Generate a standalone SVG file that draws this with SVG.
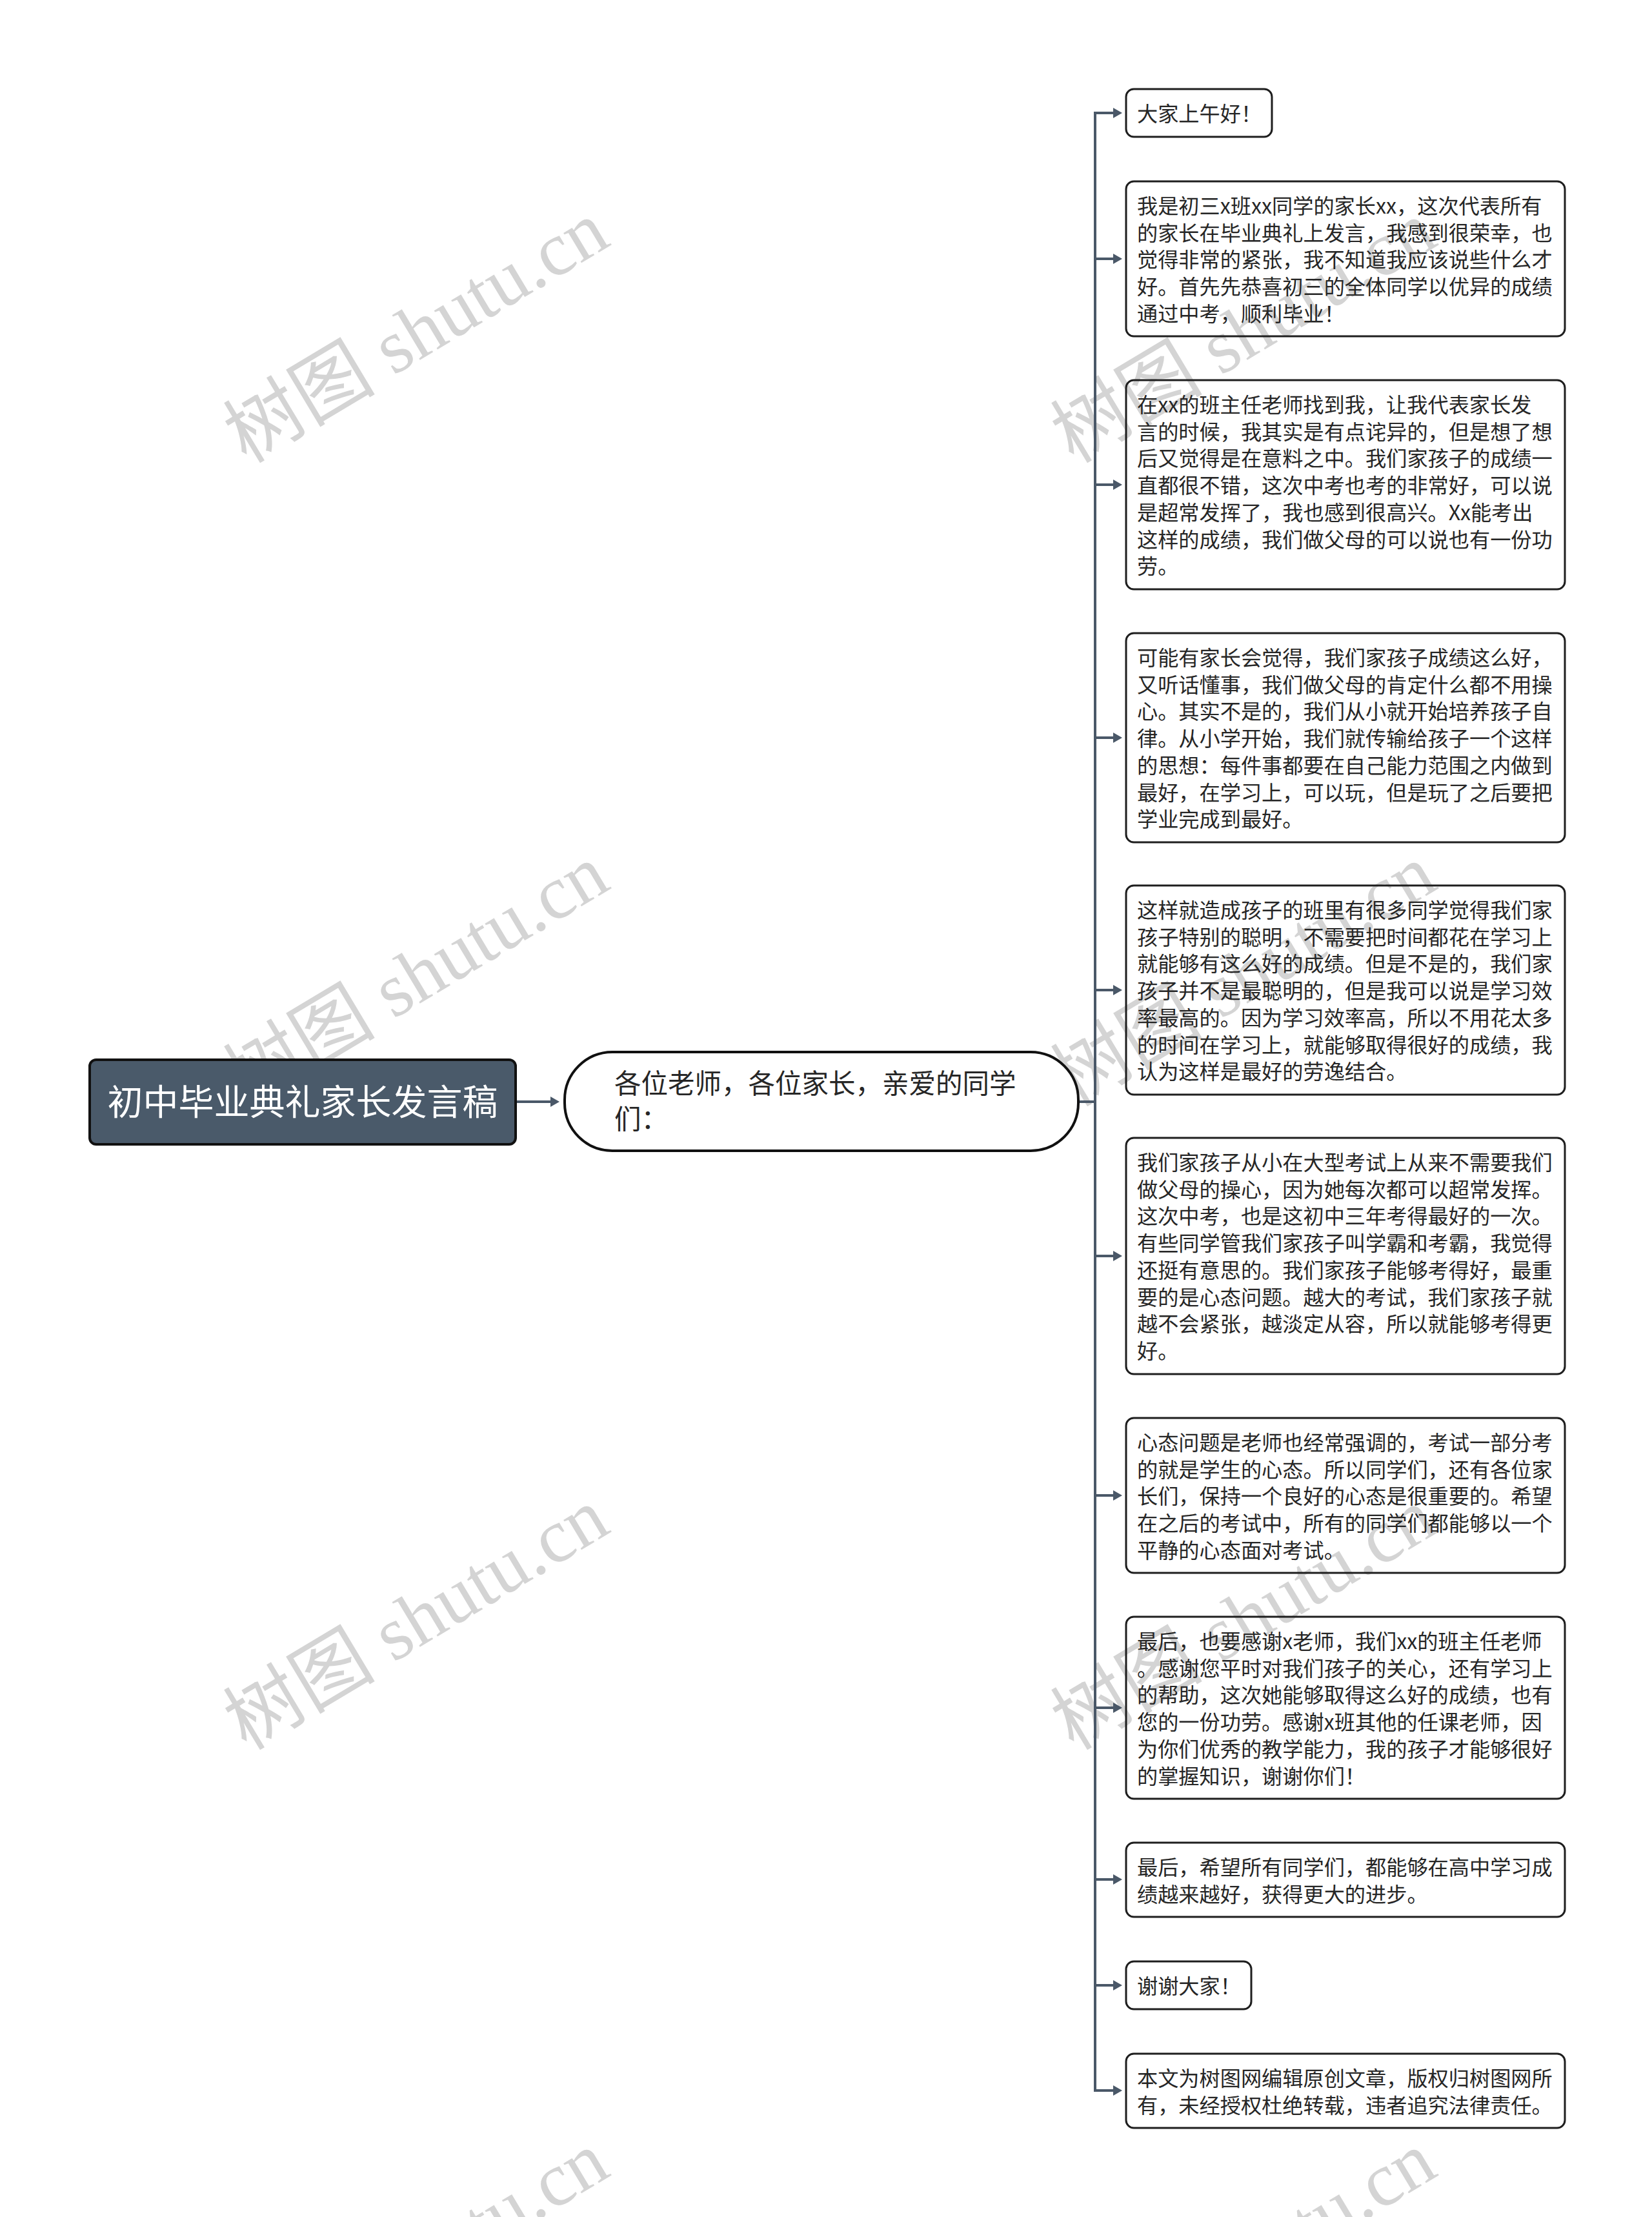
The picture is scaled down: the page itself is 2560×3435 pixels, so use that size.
<svg xmlns="http://www.w3.org/2000/svg" width="2560" height="3435" viewBox="0 0 2560 3435">
<style>
.wm{font-family:"Liberation Serif","Noto Sans CJK SC",serif;font-size:118px;fill:#d4d4d4;text-anchor:middle}
.conn{stroke:#4a5868;stroke-width:4;fill:none}
.box{fill:none;stroke:#1e1e1e;stroke-width:3}
.t{font-family:"Noto Sans CJK SC","Noto Sans",sans-serif;font-size:32.2px;fill:#262626}
.root{fill:#4a5a6a;stroke:#111;stroke-width:4}
.rt{font-family:"Noto Sans CJK SC","Noto Sans",sans-serif;font-size:55px;fill:#ffffff;text-anchor:middle}
.sub{fill:#ffffff;stroke:#111;stroke-width:4}
.st{font-family:"Noto Sans CJK SC","Noto Sans",sans-serif;font-size:41.5px;fill:#262626}
</style>
<defs>
<marker id="ah" markerUnits="userSpaceOnUse" markerWidth="14" markerHeight="16" refX="2" refY="8" orient="auto">
<path d="M0,0 L14,8 L0,16 z" fill="#4a5868"/>
</marker>
</defs>
<rect width="2560" height="3435" fill="#ffffff"/>
<g id="watermarks">
<text class="wm" transform="translate(647,518) rotate(-31)" y="36">树图 shutu.cn</text>
<text class="wm" transform="translate(1929,518) rotate(-31)" y="36">树图 shutu.cn</text>
<text class="wm" transform="translate(647,1515) rotate(-31)" y="36">树图 shutu.cn</text>
<text class="wm" transform="translate(1929,1515) rotate(-31)" y="36">树图 shutu.cn</text>
<text class="wm" transform="translate(647,2512) rotate(-31)" y="36">树图 shutu.cn</text>
<text class="wm" transform="translate(1929,2512) rotate(-31)" y="36">树图 shutu.cn</text>
<text class="wm" transform="translate(647,3509) rotate(-31)" y="36">树图 shutu.cn</text>
<text class="wm" transform="translate(1929,3509) rotate(-31)" y="36">树图 shutu.cn</text>
</g>
<g id="connectors">
<line class="conn" x1="799" y1="1707" x2="855" y2="1707" marker-end="url(#ah)"/>
<path class="conn" d="M1671,1707 H1697"/>
<line class="conn" x1="1697" y1="173" x2="1697" y2="3241"/>
<line class="conn" x1="1697" y1="175" x2="1727" y2="175" marker-end="url(#ah)"/>
<line class="conn" x1="1697" y1="401" x2="1727" y2="401" marker-end="url(#ah)"/>
<line class="conn" x1="1697" y1="751" x2="1727" y2="751" marker-end="url(#ah)"/>
<line class="conn" x1="1697" y1="1143" x2="1727" y2="1143" marker-end="url(#ah)"/>
<line class="conn" x1="1697" y1="1534" x2="1727" y2="1534" marker-end="url(#ah)"/>
<line class="conn" x1="1697" y1="1946" x2="1727" y2="1946" marker-end="url(#ah)"/>
<line class="conn" x1="1697" y1="2317" x2="1727" y2="2317" marker-end="url(#ah)"/>
<line class="conn" x1="1697" y1="2646" x2="1727" y2="2646" marker-end="url(#ah)"/>
<line class="conn" x1="1697" y1="2912" x2="1727" y2="2912" marker-end="url(#ah)"/>
<line class="conn" x1="1697" y1="3076" x2="1727" y2="3076" marker-end="url(#ah)"/>
<line class="conn" x1="1697" y1="3239" x2="1727" y2="3239" marker-end="url(#ah)"/>
</g>
<g id="root">
<rect class="root" x="139" y="1642" width="660" height="131" rx="10"/>
<text class="rt" x="469" y="1727">初中毕业典礼家长发言稿</text>
</g>
<g id="sub">
<rect class="sub" x="875" y="1630" width="796" height="153" rx="74"/>
<text class="st" x="952" y="1694">各位老师，各位家长，亲爱的同学<tspan x="952" dy="55">们：</tspan></text>
</g>
<g id="n1">
<rect class="box" x="1745" y="138" width="226" height="74" rx="12"/>
<text class="t" x="1762" y="188">大家上午好！</text>
</g>
<g id="n2">
<rect class="box" x="1745" y="281" width="680" height="240" rx="12"/>
<text class="t" x="1762" y="331">我是初三x班xx同学的家长xx，这次代表所有<tspan x="1762" dy="41.7">的家长在毕业典礼上发言，我感到很荣幸，也</tspan><tspan x="1762" dy="41.7">觉得非常的紧张，我不知道我应该说些什么才</tspan><tspan x="1762" dy="41.7">好。首先先恭喜初三的全体同学以优异的成绩</tspan><tspan x="1762" dy="41.7">通过中考，顺利毕业！</tspan></text>
</g>
<g id="n3">
<rect class="box" x="1745" y="589" width="680" height="324" rx="12"/>
<text class="t" x="1762" y="639">在xx的班主任老师找到我，让我代表家长发<tspan x="1762" dy="41.7">言的时候，我其实是有点诧异的，但是想了想</tspan><tspan x="1762" dy="41.7">后又觉得是在意料之中。我们家孩子的成绩一</tspan><tspan x="1762" dy="41.7">直都很不错，这次中考也考的非常好，可以说</tspan><tspan x="1762" dy="41.7">是超常发挥了，我也感到很高兴。Xx能考出</tspan><tspan x="1762" dy="41.7">这样的成绩，我们做父母的可以说也有一份功</tspan><tspan x="1762" dy="41.7">劳。</tspan></text>
</g>
<g id="n4">
<rect class="box" x="1745" y="981" width="680" height="324" rx="12"/>
<text class="t" x="1762" y="1031">可能有家长会觉得，我们家孩子成绩这么好，<tspan x="1762" dy="41.7">又听话懂事，我们做父母的肯定什么都不用操</tspan><tspan x="1762" dy="41.7">心。其实不是的，我们从小就开始培养孩子自</tspan><tspan x="1762" dy="41.7">律。从小学开始，我们就传输给孩子一个这样</tspan><tspan x="1762" dy="41.7">的思想：每件事都要在自己能力范围之内做到</tspan><tspan x="1762" dy="41.7">最好，在学习上，可以玩，但是玩了之后要把</tspan><tspan x="1762" dy="41.7">学业完成到最好。</tspan></text>
</g>
<g id="n5">
<rect class="box" x="1745" y="1372" width="680" height="324" rx="12"/>
<text class="t" x="1762" y="1422">这样就造成孩子的班里有很多同学觉得我们家<tspan x="1762" dy="41.7">孩子特别的聪明，不需要把时间都花在学习上</tspan><tspan x="1762" dy="41.7">就能够有这么好的成绩。但是不是的，我们家</tspan><tspan x="1762" dy="41.7">孩子并不是最聪明的，但是我可以说是学习效</tspan><tspan x="1762" dy="41.7">率最高的。因为学习效率高，所以不用花太多</tspan><tspan x="1762" dy="41.7">的时间在学习上，就能够取得很好的成绩，我</tspan><tspan x="1762" dy="41.7">认为这样是最好的劳逸结合。</tspan></text>
</g>
<g id="n6">
<rect class="box" x="1745" y="1763" width="680" height="366" rx="12"/>
<text class="t" x="1762" y="1813">我们家孩子从小在大型考试上从来不需要我们<tspan x="1762" dy="41.7">做父母的操心，因为她每次都可以超常发挥。</tspan><tspan x="1762" dy="41.7">这次中考，也是这初中三年考得最好的一次。</tspan><tspan x="1762" dy="41.7">有些同学管我们家孩子叫学霸和考霸，我觉得</tspan><tspan x="1762" dy="41.7">还挺有意思的。我们家孩子能够考得好，最重</tspan><tspan x="1762" dy="41.7">要的是心态问题。越大的考试，我们家孩子就</tspan><tspan x="1762" dy="41.7">越不会紧张，越淡定从容，所以就能够考得更</tspan><tspan x="1762" dy="41.7">好。</tspan></text>
</g>
<g id="n7">
<rect class="box" x="1745" y="2197" width="680" height="240" rx="12"/>
<text class="t" x="1762" y="2247">心态问题是老师也经常强调的，考试一部分考<tspan x="1762" dy="41.7">的就是学生的心态。所以同学们，还有各位家</tspan><tspan x="1762" dy="41.7">长们，保持一个良好的心态是很重要的。希望</tspan><tspan x="1762" dy="41.7">在之后的考试中，所有的同学们都能够以一个</tspan><tspan x="1762" dy="41.7">平静的心态面对考试。</tspan></text>
</g>
<g id="n8">
<rect class="box" x="1745" y="2505" width="680" height="282" rx="12"/>
<text class="t" x="1762" y="2555">最后，也要感谢x老师，我们xx的班主任老师<tspan x="1762" dy="41.7">。感谢您平时对我们孩子的关心，还有学习上</tspan><tspan x="1762" dy="41.7">的帮助，这次她能够取得这么好的成绩，也有</tspan><tspan x="1762" dy="41.7">您的一份功劳。感谢x班其他的任课老师，因</tspan><tspan x="1762" dy="41.7">为你们优秀的教学能力，我的孩子才能够很好</tspan><tspan x="1762" dy="41.7">的掌握知识，谢谢你们！</tspan></text>
</g>
<g id="n9">
<rect class="box" x="1745" y="2855" width="680" height="115" rx="12"/>
<text class="t" x="1762" y="2905">最后，希望所有同学们，都能够在高中学习成<tspan x="1762" dy="41.7">绩越来越好，获得更大的进步。</tspan></text>
</g>
<g id="n10">
<rect class="box" x="1745" y="3039" width="194" height="74" rx="12"/>
<text class="t" x="1762" y="3089">谢谢大家！</text>
</g>
<g id="n11">
<rect class="box" x="1745" y="3182" width="680" height="115" rx="12"/>
<text class="t" x="1762" y="3232">本文为树图网编辑原创文章，版权归树图网所<tspan x="1762" dy="41.7">有，未经授权杜绝转载，违者追究法律责任。</tspan></text>
</g>
</svg>
